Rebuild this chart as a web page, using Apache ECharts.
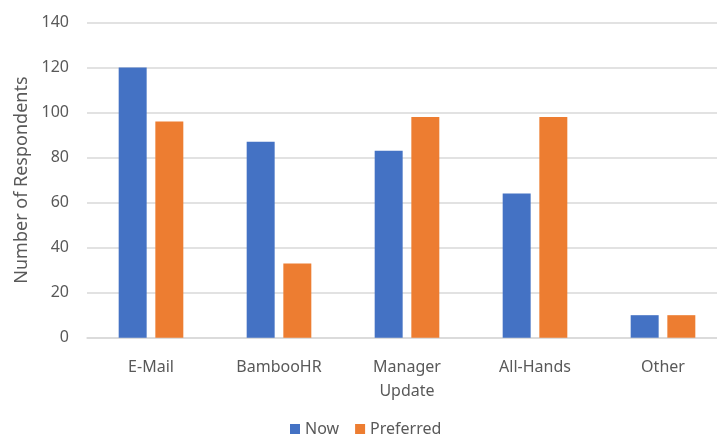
<!DOCTYPE html>
<html>
<head>
<meta charset="utf-8">
<script src="https://cdn.jsdelivr.net/npm/echarts@6/dist/echarts.min.js"></script>
<style>
  html, body { margin: 0; padding: 0; background: #fff; overflow: hidden; }
  /* the plot runs slightly past the right edge, so the canvas is a bit wider than the page */
  #chart { width: 727px; height: 436px; }
</style>
</head>
<body>
<div id="chart"></div>
<script>
// Communication channels: current usage vs. preferred
const categories = ['E-Mail', 'BambooHR', 'Manager\nUpdate', 'All-Hands', 'Other'];
const nowValues = [120, 87, 83, 64, 10];
const preferredValues = [96, 33, 98, 98, 10];
const yTicks = { min: 0, max: 140, interval: 20 };

const textColor = '#595959';
const fontFamily = '"Noto Sans", "Open Sans", sans-serif';

const chart = echarts.init(document.getElementById('chart'));
chart.setOption({
  animation: false,
  textStyle: { fontFamily: fontFamily },
  grid: { left: 87, top: 22.5, right: 0, height: 315.2, containLabel: false },
  legend: {
    left: 290, top: 421, padding: 0,
    itemWidth: 10, itemHeight: 10, itemGap: 16,
    icon: 'rect',
    textStyle: { color: textColor, fontSize: 16, lineHeight: 16, fontFamily: fontFamily },
    data: ['Now', 'Preferred']
  },
  xAxis: {
    type: 'category',
    data: categories,
    axisLine: { show: true, lineStyle: { color: '#D9D9D9', width: 1.5 } },
    axisTick: { show: false },
    axisLabel: { color: textColor, fontSize: 16, lineHeight: 24, margin: 18, interval: 0 }
  },
  yAxis: {
    type: 'value',
    min: yTicks.min, max: yTicks.max, interval: yTicks.interval,
    name: 'Number of Respondents',
    nameLocation: 'middle',
    nameGap: 55,
    nameTextStyle: { color: textColor, fontSize: 18 },
    axisLine: { show: false },
    axisTick: { show: false },
    axisLabel: { color: textColor, fontSize: 16, margin: 18 },
    splitLine: { lineStyle: { color: '#D9D9D9', width: 1.5 } }
  },
  series: [
    {
      name: 'Now', type: 'bar', data: nowValues,
      itemStyle: { color: '#4472C4' },
      barGap: '31%', barCategoryGap: '49.5%'
    },
    {
      name: 'Preferred', type: 'bar', data: preferredValues,
      itemStyle: { color: '#ED7D31' }
    }
  ]
});
</script>
</body>
</html>
